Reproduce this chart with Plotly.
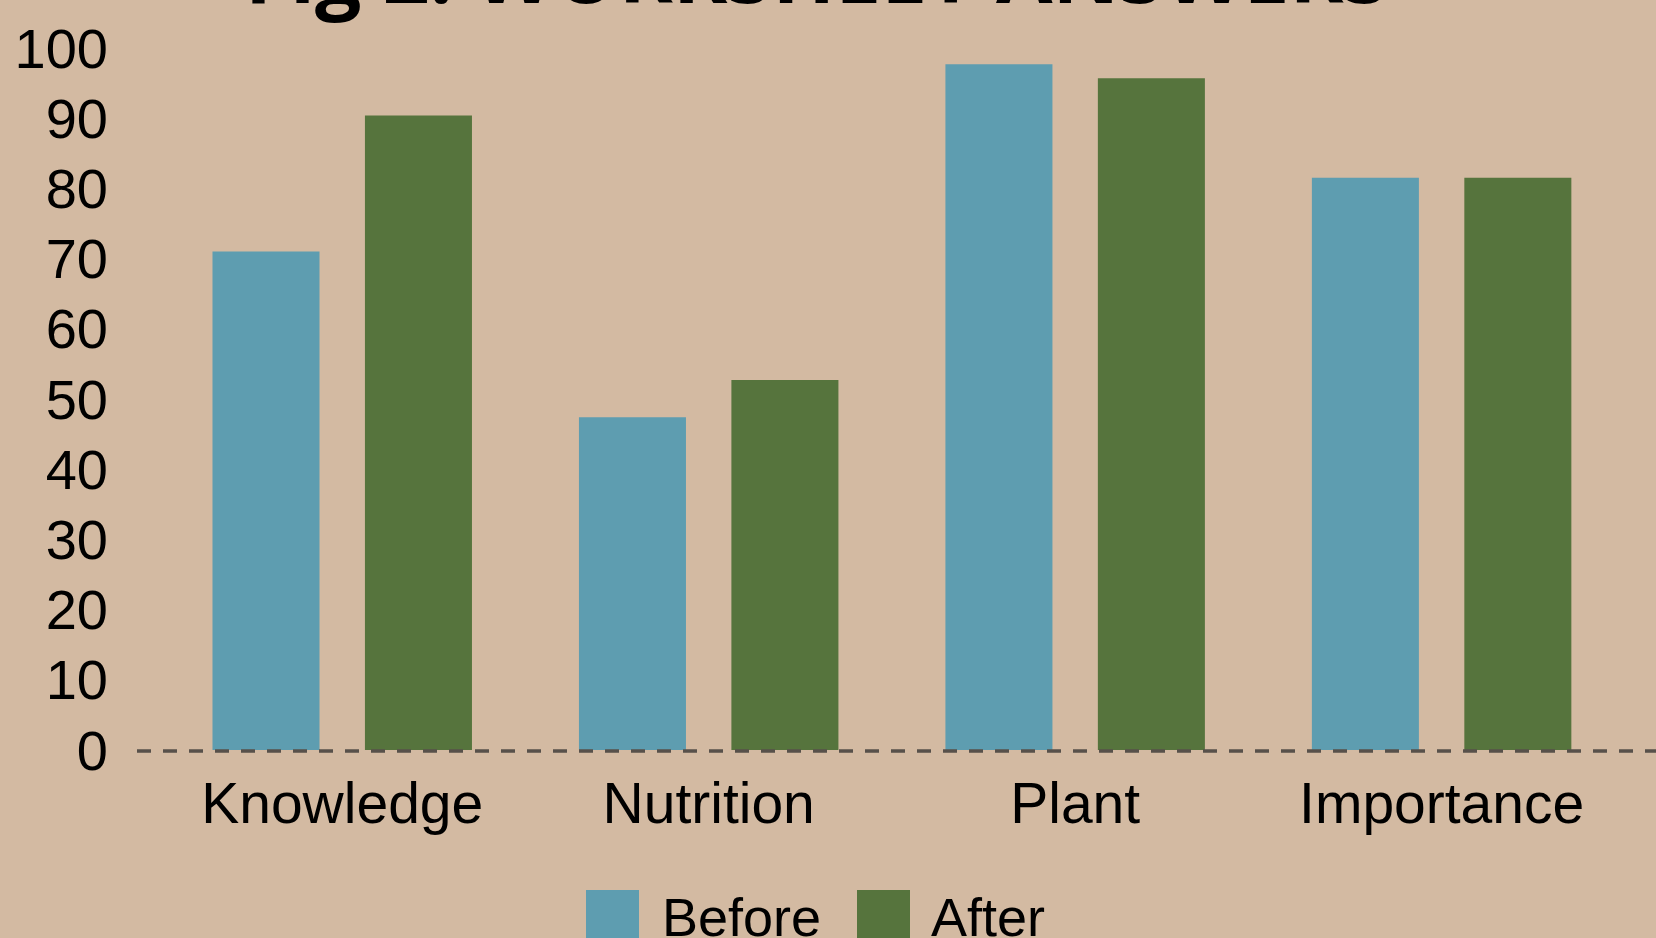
import plotly.graph_objects as go

categories = ["Knowledge", "Nutrition", "Plant", "Importance"]
before = [71, 47.4, 97.7, 81.5]
after = [90.4, 52.7, 95.7, 81.5]
series_names = ["Before", "After"]
series_colors = ["#5E9DB0", "#56743D"]
y_ticks = [0, 10, 20, 30, 40, 50, 60, 70, 80, 90, 100]

W, H = 1656, 938
L, R, T, B = 137, 0, 48, 188
BG = "#D3BAA2"
FONT = "Liberation Sans, Arial, sans-serif"

pw, ph = W - L - R, H - T - B


def px_x(x):
    return (x - L) / pw


def px_y(y):
    return (H - B - y) / ph


fig = go.Figure()
for name, vals, col in zip(series_names, [before, after], series_colors):
    fig.add_trace(go.Bar(x=categories, y=vals, name=name, marker_color=col,
                         marker_line_width=0, showlegend=False))

shapes = [dict(type="line", xref="paper", yref="paper", x0=0, x1=1,
               y0=px_y(751), y1=px_y(751),
               line=dict(color="#57504A", width=3.5, dash="14px,12px"), layer="above")]
annotations = []
legend_sq = [586, 857]
legend_tx = [660, 929]
for name, col, sx, tx in zip(series_names, series_colors, legend_sq, legend_tx):
    shapes.append(dict(type="rect", xref="paper", yref="paper",
                       x0=px_x(sx), x1=px_x(sx + 53), y0=px_y(890), y1=px_y(945),
                       fillcolor=col, line=dict(width=0)))
    annotations.append(dict(text=name, xref="paper", yref="paper",
                            x=px_x(tx), y=px_y(917), xanchor="left", yanchor="middle",
                            showarrow=False, font=dict(family=FONT, size=54, color="#000")))

annotations.append(dict(text="<b>Fig 2: WORKSHEET ANSWERS</b>", xref="paper", yref="paper",
                        x=px_x(817), y=px_y(-29), xanchor="center", yanchor="middle",
                        showarrow=False, font=dict(family="Open Sans, sans-serif", size=82, color="#000")))

fig.update_layout(
    width=W, height=H,
    margin=dict(l=L, r=R, t=T, b=B, pad=0),
    paper_bgcolor=BG, plot_bgcolor=BG,
    barmode="group", bargap=0.168, bargroupgap=0.298,
    shapes=shapes, annotations=annotations,
    showlegend=False,
    xaxis=dict(range=[-0.56, 3.585], showgrid=False, zeroline=False, showline=False,
               tickfont=dict(family=FONT, size=57, color="#000"), ticks="",
               ticklabelstandoff=15),
    yaxis=dict(range=[0, 100], tickvals=y_ticks, showgrid=False, zeroline=False, showline=False,
               tickfont=dict(family=FONT, size=56, color="#000"), ticks="",
               ticklabelstandoff=28),
)

fig.write_html("out.html")
